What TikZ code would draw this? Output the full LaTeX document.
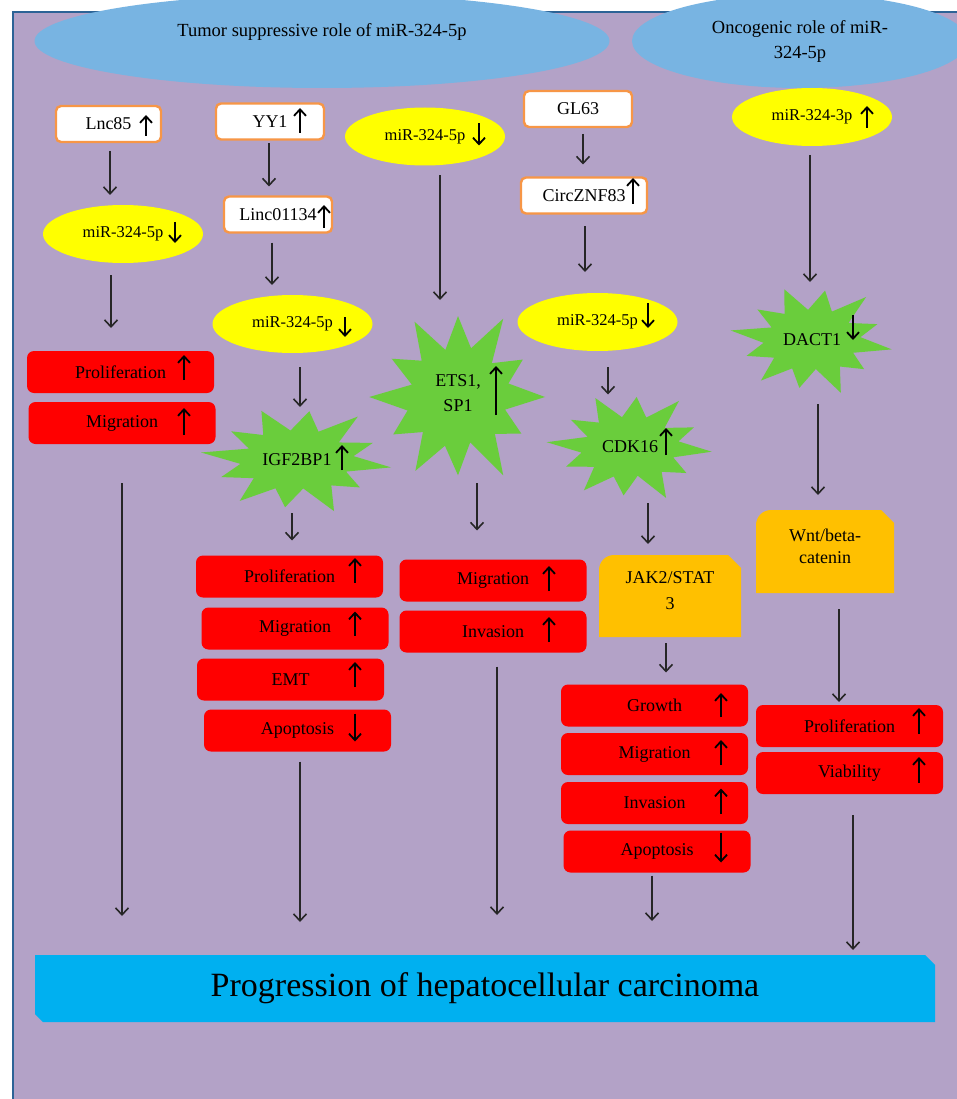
\documentclass[tikz,border=0pt]{standalone}
\usepackage{fontspec}
\setmainfont{Liberation Serif}
\usetikzlibrary{arrows.meta,calc,shapes.geometric}

\definecolor{panel}{HTML}{B3A2C7}
\definecolor{panelrule}{HTML}{2C6396}
\definecolor{rolefill}{HTML}{78B4E2}
\definecolor{mirfill}{HTML}{FFFF00}
\definecolor{hitfill}{HTML}{6ACD3C}
\definecolor{effectfill}{HTML}{FF0000}
\definecolor{pathfill}{HTML}{FFC000}
\definecolor{hccfill}{HTML}{00B0F0}
\definecolor{genefrm}{HTML}{F79646}
\definecolor{inkc}{HTML}{262626}

\tikzset{
  base/.style={inner sep=0pt, outer sep=0pt, text=black,
    font=\fontsize{18}{22}\selectfont},
  role/.style={base, ellipse, fill=rolefill, font=\fontsize{18.5}{25}\selectfont},
  gene/.style={base, rectangle, rounded corners=5pt, draw=genefrm,
    line width=2.4pt, fill=white, minimum height=36pt},
  mir/.style={base, ellipse, fill=mirfill, minimum width=160pt,
    minimum height=58pt, font=\fontsize{16.5}{20}\selectfont},
  effect/.style={base, rectangle, rounded corners=7pt, fill=effectfill,
    minimum width=187pt, minimum height=42pt},
  target/.style={base, align=center, font=\fontsize{18}{25}\selectfont},
  tab/.style={base, align=center, font=\fontsize{18}{26}\selectfont,
    path picture={\fill[pathfill]
      (path picture bounding box.south west)
      -- (path picture bounding box.south east)
      -- ([yshift=-13pt]path picture bounding box.north east)
      -- ([xshift=-13pt]path picture bounding box.north east)
      -- ([xshift=15pt]path picture bounding box.north west)
      arc[start angle=90, end angle=180, radius=15pt] -- cycle;}},
  banner/.style={base, font=\fontsize{34}{40}\selectfont,
    path picture={\fill[hccfill]
      ([xshift=8pt]path picture bounding box.south west)
      -- (path picture bounding box.south east)
      -- ([yshift=-10pt]path picture bounding box.north east)
      -- ([xshift=-10pt]path picture bounding box.north east)
      -- (path picture bounding box.north west)
      -- ([yshift=8pt]path picture bounding box.south west) -- cycle;}},
  conn/.style={draw=inkc, line width=1.6pt,
    -{Straight Barb[length=7pt,width=13pt]}},
  glyph/.style={draw=black, line width=1.8pt,
    -{Straight Barb[length=6.5pt,width=12pt]}},
}

% twelve-point burst behind a target gene: centre x, centre y, x radius, y radius, turn
\newcommand\burst[5]{%
  \fill[hitfill, shift={(#1,#2)}] (#5:#3 and #4)
    \foreach \a/\f/\g in {0/1.00/0.56,30/0.84/0.60,60/1.04/0.54,90/0.90/0.58,
                          120/0.98/0.57,150/0.86/0.60,180/1.02/0.55,210/0.88/0.59,
                          240/1.00/0.56,270/0.93/0.58,300/1.04/0.55,330/0.86/0.60}
      { -- (\a+#5:\f*#3 and \f*#4) -- (\a+#5+15:\g*#3 and \g*#4) } -- cycle;}

% vertical connector: from node, x shift, to node, x shift, start gap, end gap
\newcommand\link[6]{\draw[conn, shorten <=#5pt, shorten >=#6pt]
  ([xshift=#2pt]#1.south) -- ([xshift=#4pt]#3.north);}

% up / down change marks beside a label: node, dx, dy, half length
\newcommand\upmark[4]{\draw[glyph] ($(#1)+(#2,#3+#4)$) -- ($(#1)+(#2,#3-#4)$);}
\newcommand\downmark[4]{\draw[glyph] ($(#1)+(#2,#3-#4)$) -- ($(#1)+(#2,#3+#4)$);}

\begin{document}
\begin{tikzpicture}[x=1pt, y=-1pt]
\useasboundingbox (0,0) rectangle (957,1099);
\fill[white] (0,0) rectangle (957,1099);
\fill[panel] (13,12) rectangle (957,1099);
\draw[panelrule, line width=2.5pt] (13,1099) -- (13,12) -- (957,12);

% role headers
\node[role, minimum width=575pt, minimum height=94pt, text depth=23pt] (supp) at (322,41)
  {Tumor suppressive role of miR-324-5p};
\node[role, align=center, minimum width=336pt, minimum height=94pt] (onco) at (800,41)
  {Oncogenic role of miR-\\324-5p};

% bursts
\burst{297}{460}{95}{53}{8}
\burst{458}{397}{87}{87}{0}
\burst{630}{447}{82}{54}{5}
\burst{812}{340}{81}{54}{10}

% column 1
\node[gene, minimum width=105pt] (lnc) at (108.5,124) {Lnc85};
\node[mir] (mira) at (123,234) {miR-324-5p};
\node[effect] (pro1) at (120.5,372) {Proliferation};
\node[effect] (mig1) at (122,423) {Migration};

% column 2
\node[gene, minimum width=108pt] (yy1) at (270,121.5) {YY1};
\node[gene, minimum width=108pt] (linc) at (278,214.5) {Linc01134};
\node[mir] (mirb) at (292.5,324) {miR-324-5p};
\node[target, minimum width=188pt, minimum height=105pt] (igf) at (297,460) {IGF2BP1};
\node[effect] (pro2) at (289.5,576.5) {Proliferation};
\node[effect] (mig2) at (295,628.5) {Migration};
\node[effect] (emt2) at (290.5,679.5) {EMT};
\node[effect] (apo2) at (297.5,730.5) {Apoptosis};

% column 3
\node[mir] (mirc) at (425,136.5) {miR-324-5p};
\node[target, minimum width=172pt, minimum height=172pt] (ets) at (458,393) {ETS1,\\SP1};
\node[effect] (mig3) at (493,580.5) {Migration};
\node[effect] (inv3) at (493,631.5) {Invasion};

% column 4
\node[gene, minimum width=108pt] (gl) at (578,109) {GL63};
\node[gene, minimum width=126pt] (circ) at (584,195.5) {CircZNF83};
\node[mir] (mird) at (597.5,322) {miR-324-5p};
\node[target, minimum width=162pt, minimum height=105pt] (cdk) at (630,447) {CDK16};
\node[tab, minimum width=142pt, minimum height=82pt, text depth=10pt] (jak) at (670,596) {JAK2/STAT\\3};
\node[effect] (gro4) at (654.5,705.5) {Growth};
\node[effect] (mig4) at (654.5,754) {Migration};
\node[effect] (inv4) at (654.5,803) {Invasion};
\node[effect] (apo4) at (657,851.5) {Apoptosis};

% column 5
\node[mir] (mire) at (812,117) {miR-324-3p};
\node[target, minimum width=162pt, minimum height=106pt] (dact) at (812,340) {DACT1};
\node[tab, minimum width=138pt, minimum height=83pt, font=\fontsize{18}{22}\selectfont,
  text depth=10pt] (wnt) at (825,551.5) {Wnt/beta-\\catenin};
\node[effect] (pro5) at (849.5,726) {Proliferation};
\node[effect] (via5) at (849.5,773) {Viability};

% outcome
\node[banner, minimum width=900pt, minimum height=67pt] (hcc) at (485,988.5)
  {Progression of hepatocellular carcinoma};

% connectors
\link{lnc}{1.5}{mira}{-13}{9}{10}
\link{mira}{-12}{pro1}{-9.5}{12}{23}
\link{mig1}{0}{hcc}{-363}{39}{39}
\link{yy1}{-1}{linc}{-9}{4}{10}
\link{linc}{-6}{mirb}{-20.5}{10}{10}
\link{mirb}{7.5}{igf}{3}{14}{0.5}
\link{igf}{-5}{pro2}{2.5}{0.5}{15}
\link{apo2}{2.5}{hcc}{-185}{10}{33}
\link{mirc}{15}{ets}{-18}{10}{7}
\link{ets}{19}{mig3}{-16}{4}{29}
\link{inv3}{4}{hcc}{12}{14}{40}
\link{gl}{5}{circ}{-1}{7}{13}
\link{circ}{1}{mird}{-12.5}{13}{21}
\link{mird}{10.5}{cdk}{-22}{16}{0}
\link{cdk}{18}{jak}{-22}{3.5}{11}
\link{jak}{-4}{gro4}{11.5}{6}{12}
\link{apo4}{-5}{hcc}{167}{3}{34}
\link{mire}{-2}{dact}{-2}{9}{5}
\link{dact}{6}{wnt}{-7}{11}{15}
\link{wnt}{14}{pro5}{-10.5}{16}{3}
\link{via5}{3.5}{hcc}{368}{21}{5}

% change marks
\upmark{lnc}{37.5}{1.5}{10.5}
\upmark{yy1}{30}{-1}{12.5}
\upmark{linc}{46}{2}{11.5}
\upmark{circ}{49}{-4.5}{13}
\downmark{mira}{52}{-1.5}{10.5}
\downmark{mirb}{52.5}{3}{10}
\downmark{mirc}{54}{-2}{11}
\downmark{mird}{50.5}{-6.5}{12.5}
\upmark{mire}{55}{0}{11}
\upmark{igf}{45}{-2.5}{12.5}
\upmark{ets}{38}{-2.5}{24.5}
\upmark{cdk}{36}{-5.5}{13.5}
\downmark{dact}{41}{-12.5}{12.5}
\upmark{pro1}{63.5}{-4.5}{12.5}
\upmark{mig1}{62}{-1.5}{13.5}
\upmark{pro2}{65.5}{-6}{12.5}
\upmark{mig2}{60}{-5}{12}
\upmark{emt2}{64.5}{-5}{12.5}
\downmark{apo2}{57.5}{-3}{14}
\upmark{mig3}{56}{-2}{12.5}
\upmark{inv3}{56}{-2}{12.5}
\upmark{gro4}{66.5}{-0.5}{12}
\upmark{mig4}{66.5}{-1.5}{12.5}
\upmark{inv4}{66.5}{-2}{12.5}
\downmark{apo4}{64}{-4}{15}
\upmark{pro5}{69.5}{-5}{13}
\upmark{via5}{69.5}{-3}{13}
\end{tikzpicture}
\end{document}
